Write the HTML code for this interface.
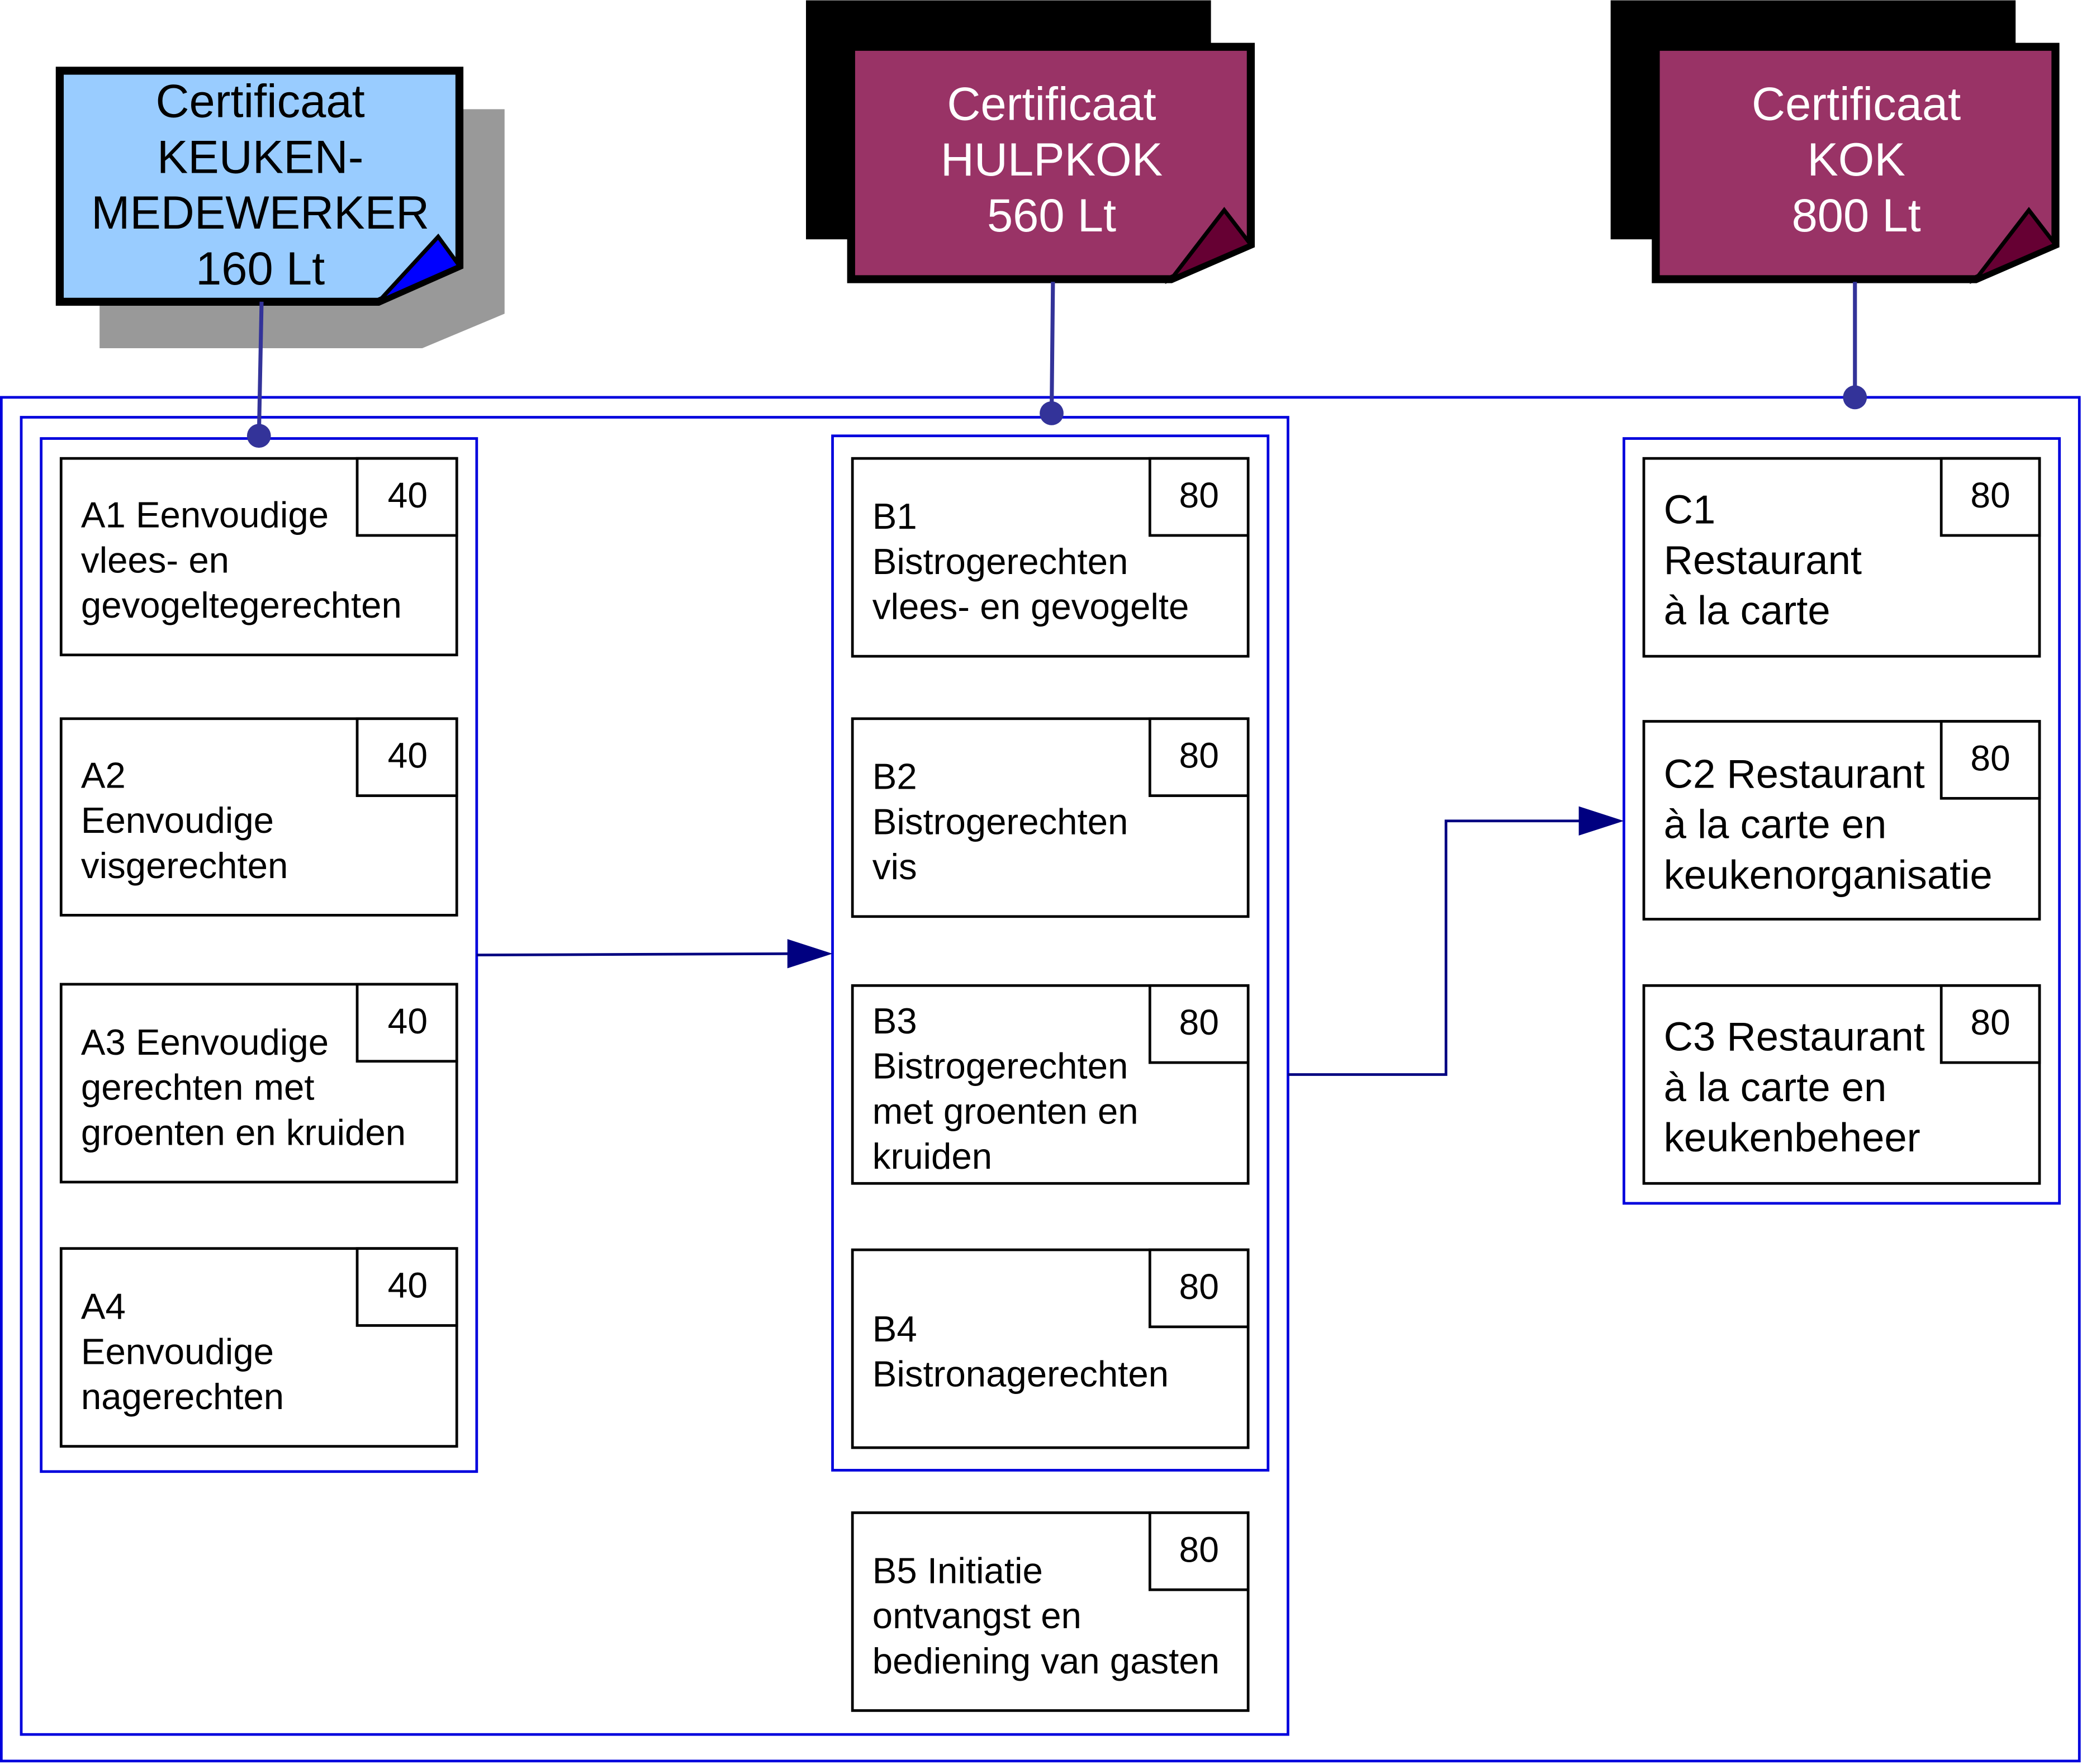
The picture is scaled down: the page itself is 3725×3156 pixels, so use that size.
<!DOCTYPE html>
<html><head><meta charset="utf-8"><style>html,body{margin:0;padding:0;background:#fff}svg{display:block}</style></head>
<body>
<svg width="3725" height="3156" viewBox="0 0 1568 1328" xmlns="http://www.w3.org/2000/svg" font-family="Liberation Sans, sans-serif">
<rect x="0" y="0" width="1568" height="1328" fill="#fff"/>
<rect x="1" y="299" width="1565" height="1027" fill="none" stroke="#0000dd" stroke-width="2"/>
<rect x="16" y="314" width="954" height="992" fill="none" stroke="#0000dd" stroke-width="2"/>
<rect x="31" y="330" width="328" height="778" fill="none" stroke="#0000dd" stroke-width="2"/>
<rect x="627" y="328" width="328" height="779" fill="none" stroke="#0000dd" stroke-width="2"/>
<rect x="1223" y="330" width="328" height="576" fill="none" stroke="#0000dd" stroke-width="2"/>

<g fill="#fff" stroke="#000" stroke-width="2">
<rect x="46" y="345" width="298" height="148"/><rect x="269" y="345" width="75" height="58"/>
<rect x="46" y="541" width="298" height="148"/><rect x="269" y="541" width="75" height="58"/>
<rect x="46" y="741" width="298" height="149"/><rect x="269" y="741" width="75" height="58"/>
<rect x="46" y="940" width="298" height="149"/><rect x="269" y="940" width="75" height="58"/>
<rect x="642" y="345" width="298" height="149"/><rect x="866" y="345" width="74" height="58"/>
<rect x="642" y="541" width="298" height="149"/><rect x="866" y="541" width="74" height="58"/>
<rect x="642" y="742" width="298" height="149"/><rect x="866" y="742" width="74" height="58"/>
<rect x="642" y="941" width="298" height="149"/><rect x="866" y="941" width="74" height="58"/>
<rect x="642" y="1139" width="298" height="149"/><rect x="866" y="1139" width="74" height="58"/>
<rect x="1238" y="345" width="298" height="149"/><rect x="1462" y="345" width="74" height="58"/>
<rect x="1238" y="543" width="298" height="149"/><rect x="1462" y="543" width="74" height="58"/>
<rect x="1238" y="742" width="298" height="149"/><rect x="1462" y="742" width="74" height="58"/>
</g>

<g font-size="27" fill="#000" text-anchor="middle">
<text x="307" y="382">40</text><text x="307" y="578">40</text><text x="307" y="778">40</text><text x="307" y="977">40</text>
<text x="903" y="382">80</text><text x="903" y="578">80</text><text x="903" y="779">80</text><text x="903" y="978">80</text><text x="903" y="1176">80</text>
<text x="1499" y="382">80</text><text x="1499" y="580">80</text><text x="1499" y="779">80</text>
</g>

<g font-size="27.5" fill="#000">
<text x="61" y="397">A1 Eenvoudige</text><text x="61" y="431">vlees- en</text><text x="61" y="465">gevogeltegerechten</text>
<text x="61" y="593">A2</text><text x="61" y="627">Eenvoudige</text><text x="61" y="661">visgerechten</text>
<text x="61" y="794">A3 Eenvoudige</text><text x="61" y="828">gerechten met</text><text x="61" y="862">groenten en kruiden</text>
<text x="61" y="993">A4</text><text x="61" y="1027">Eenvoudige</text><text x="61" y="1061">nagerechten</text>
<text x="657" y="398">B1</text><text x="657" y="432">Bistrogerechten</text><text x="657" y="466">vlees- en gevogelte</text>
<text x="657" y="594">B2</text><text x="657" y="628">Bistrogerechten</text><text x="657" y="662">vis</text>
<text x="657" y="778">B3</text><text x="657" y="812">Bistrogerechten</text><text x="657" y="846">met groenten en</text><text x="657" y="880">kruiden</text>
<text x="657" y="1010">B4</text><text x="657" y="1044">Bistronagerechten</text>
<text x="657" y="1192">B5 Initiatie</text><text x="657" y="1226">ontvangst en</text><text x="657" y="1260">bediening van gasten</text>
</g>
<g font-size="30.5" fill="#000">
<text x="1253" y="394">C1</text><text x="1253" y="432">Restaurant</text><text x="1253" y="470">à la carte</text>
<text x="1253" y="593">C2 Restaurant</text><text x="1253" y="631">à la carte en</text><text x="1253" y="669">keukenorganisatie</text>
<text x="1253" y="791">C3 Restaurant</text><text x="1253" y="829">à la carte en</text><text x="1253" y="867">keukenbeheer</text>
</g>

<polygon points="75,82 380,82 380,236 318,262 75,262" fill="#999"/>
<polygon points="45,53 346,53 346,200 285,227 45,227" fill="#99ccff" stroke="#000" stroke-width="6"/>
<polygon points="285,227 346,200 330,178" fill="#0000ff" stroke="#000" stroke-width="3"/>
<g font-size="35" fill="#000" text-anchor="middle">
<text x="196" y="88">Certificaat</text><text x="196" y="130">KEUKEN-</text><text x="196" y="172">MEDEWERKER</text><text x="196" y="214">160 Lt</text>
</g>

<rect x="607" y="0" width="305" height="180" fill="#000"/>
<polygon points="641,35 942,35 942,184 882,210 641,210" fill="#993366" stroke="#000" stroke-width="6"/>
<polygon points="882,210 942,184 922,158" fill="#660033" stroke="#000" stroke-width="3"/>
<g font-size="35" fill="#fff" text-anchor="middle">
<text x="792" y="90">Certificaat</text><text x="792" y="132">HULPKOK</text><text x="792" y="174">560 Lt</text>
</g>

<rect x="1213" y="0" width="305" height="180" fill="#000"/>
<polygon points="1247,35 1548,35 1548,184 1488,210 1247,210" fill="#993366" stroke="#000" stroke-width="6"/>
<polygon points="1488,210 1548,184 1528,158" fill="#660033" stroke="#000" stroke-width="3"/>
<g font-size="35" fill="#fff" text-anchor="middle">
<text x="1398" y="90">Certificaat</text><text x="1398" y="132">KOK</text><text x="1398" y="174">800 Lt</text>
</g>

<g stroke="#333399" stroke-width="3" fill="none">
<line x1="197" y1="227" x2="195" y2="328"/>
<line x1="793" y1="212" x2="792" y2="311"/>
<line x1="1397" y1="212" x2="1397" y2="299"/>
</g>
<g fill="#333399">
<circle cx="195" cy="328" r="9"/><circle cx="792" cy="311" r="9"/><circle cx="1397" cy="299" r="9"/>
</g>
<g stroke="#000080" stroke-width="2" fill="none">
<line x1="359" y1="719" x2="596" y2="718"/>
<polyline points="970,809 1089,809 1089,618 1192,618"/>
</g>
<g fill="#000080">
<polygon points="627,718 593,707 593,729"/>
<polygon points="1223,618 1189,607 1189,629"/>
</g>
</svg>
</body></html>
